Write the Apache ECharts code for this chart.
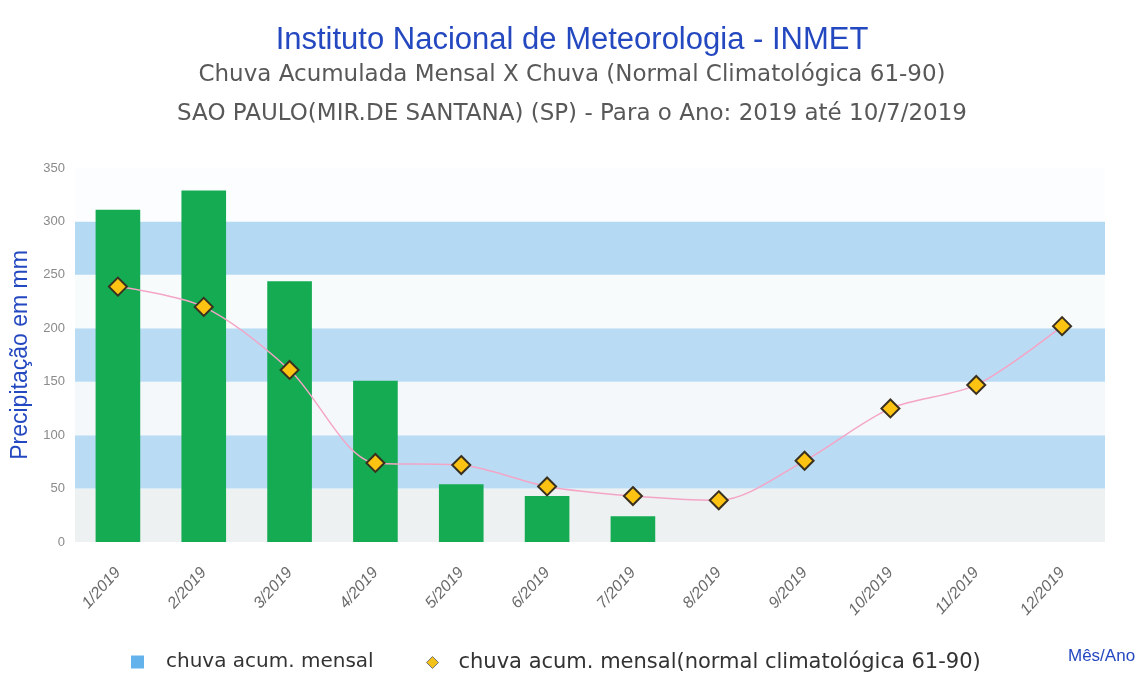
<!DOCTYPE html>
<html>
<head>
<meta charset="utf-8">
<script src="https://cdn.jsdelivr.net/npm/echarts@6/dist/echarts.min.js"></script>
<style>html,body{margin:0;padding:0;background:#fff;}#c{width:1144px;height:677px;}</style>
</head>
<body>
<div id="c"></div>
<script>
const months = ['1/2019','2/2019','3/2019','4/2019','5/2019','6/2019','7/2019','8/2019','9/2019','10/2019','11/2019','12/2019'];
const chuvaMensal = [311, 329, 244, 151, 54, 43, 24];
const chuvaNormal = [239, 220, 161, 74, 72, 52, 43, 39, 76, 125, 147, 202];
const yTicks = [0, 50, 100, 150, 200, 250, 300, 350];
const barName = 'chuva acum. mensal';
const lineName = 'chuva acum. mensal(normal climatológica 61-90)';

const chart = echarts.init(document.getElementById('c'), null, {renderer: 'canvas'});
chart.setOption({
  animation: false,
  backgroundColor: '#ffffff',
  title: [
    {text: 'Instituto Nacional de Meteorologia - INMET', left: 'center', top: 20,
     textStyle: {fontFamily: 'Liberation Sans', fontSize: 31, fontWeight: 'normal', color: '#2448c0'}},
    {text: 'Chuva Acumulada Mensal X Chuva (Normal Climatológica 61-90)', left: 'center', top: 59,
     textStyle: {fontFamily: 'DejaVu Sans', fontSize: 23, fontWeight: 'normal', color: '#585858'}},
    {text: 'SAO PAULO(MIR.DE SANTANA) (SP) - Para o Ano: 2019 até 10/7/2019', left: 'center', top: 98,
     textStyle: {fontFamily: 'DejaVu Sans', fontSize: 23, fontWeight: 'normal', color: '#585858'}}
  ],
  legend: [
    {left: 126, top: 647, itemWidth: 13, itemHeight: 13,
     textStyle: {fontFamily: 'DejaVu Sans', fontSize: 20, color: '#333333', padding: [0, 0, 0, 17]},
     data: [{name: barName, icon: 'rect', itemStyle: {color: '#64b2ec'}}]},
    {left: 421, top: 647, itemWidth: 12, itemHeight: 12,
     textStyle: {fontFamily: 'DejaVu Sans', fontSize: 21, color: '#333333', padding: [0, 0, 0, 15]},
     data: [{name: lineName, icon: 'diamond', itemStyle: {color: '#f2c21a', borderColor: '#777', borderWidth: 1}}]}
  ],
  graphic: [
    {type: 'text', left: 1068, top: 648, style: {text: 'Mês/Ano', fontFamily: 'Liberation Sans', fontSize: 17, fill: '#2448c0'}}
  ],
  grid: {left: 75, right: 39, top: 168, bottom: 135},
  xAxis: {
    type: 'category', data: months, boundaryGap: true,
    axisLine: {show: false}, axisTick: {show: false},
    axisLabel: {rotate: 48, margin: 28, fontFamily: 'Liberation Sans', fontSize: 16, color: '#6a6a6a', fontStyle: 'italic'}
  },
  yAxis: {
    type: 'value', min: yTicks[0], max: yTicks[yTicks.length - 1], interval: 50,
    name: 'Precipitação em mm', nameLocation: 'middle', nameGap: 42,
    nameTextStyle: {fontFamily: 'Liberation Sans', fontSize: 23, color: '#2448c0'},
    axisLine: {show: false}, axisTick: {show: false},
    axisLabel: {fontFamily: 'Liberation Sans', fontSize: 13, color: '#8a8a8a', margin: 10},
    splitLine: {show: false},
    splitArea: {show: true, areaStyle: {color: ['#eef1f1', '#b9dcf4', '#f5f8fa', '#b9dcf4', '#f8fbfc', '#b3d9f3', '#fcfdfe']}}
  },
  series: [
    {name: barName, type: 'bar', data: chuvaMensal, barWidth: '52%',
     itemStyle: {color: '#14ab52'}},
    {name: lineName, type: 'line', data: chuvaNormal, smooth: 0.3, z: 5,
     lineStyle: {color: '#f4a5c6', width: 1.5},
     symbol: 'diamond', symbolSize: 18,
     itemStyle: {color: '#fcc312', borderColor: '#3a3020', borderWidth: 2}}
  ]
});
</script>
</body>
</html>
